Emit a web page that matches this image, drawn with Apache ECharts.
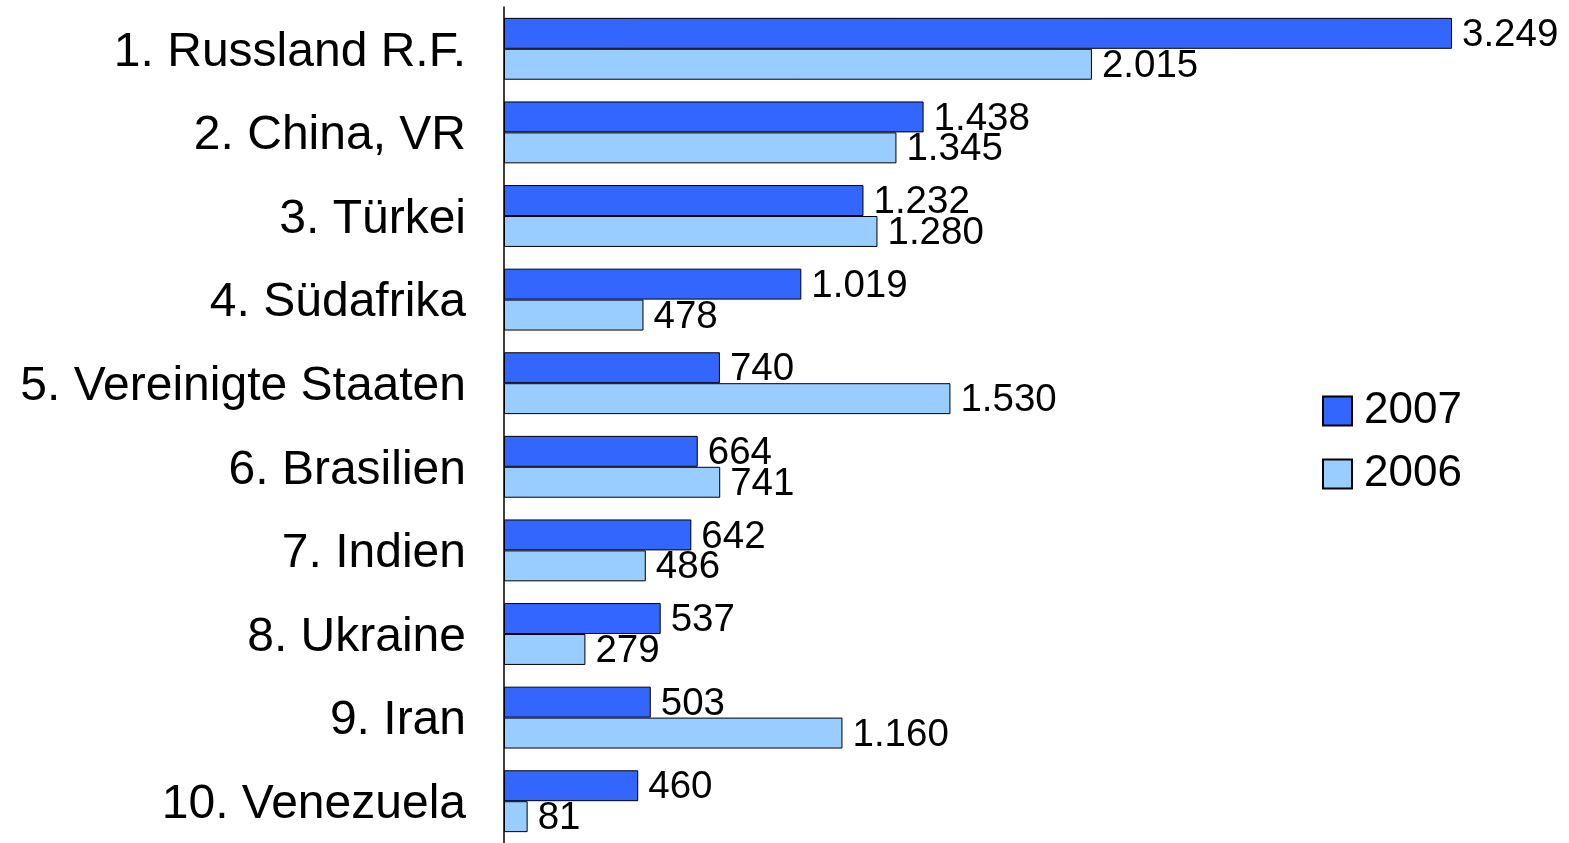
<!DOCTYPE html>
<html>
<head>
<meta charset="utf-8">
<script src="https://cdn.jsdelivr.net/npm/echarts@6/dist/echarts.min.js"></script>
<style>
  html, body { margin: 0; padding: 0; background: #fff; }
  #chart { width: 1569px; height: 843px; }
</style>
</head>
<body>
<div id="chart"></div>
<script>
const countries = ['1. Russland R.F.', '2. China, VR', '3. Türkei', '4. Südafrika', '5. Vereinigte Staaten',
  '6. Brasilien', '7. Indien', '8. Ukraine', '9. Iran', '10. Venezuela'];
const values2007 = [3249, 1438, 1232, 1019, 740, 664, 642, 537, 503, 460];
const values2006 = [2015, 1345, 1280, 478, 1530, 741, 486, 279, 1160, 81];

const FONT = '"Liberation Sans", Arial, sans-serif';

// deutsche Tausenderpunkte
function fmt(v) {
  const s = String(v);
  return s.length > 3 ? s.slice(0, -3) + '.' + s.slice(-3) : s;
}

const valueLabel = {
  show: true, position: 'right', distance: 10, offset: [0, 2],
  fontSize: 38.5, color: '#000', fontFamily: FONT,
  formatter: (p) => fmt(p.value),
};

const chart = echarts.init(document.getElementById('chart'));
chart.setOption({
  animation: false,
  textStyle: { fontFamily: FONT },
  legend: {
    orient: 'vertical',
    left: 1322,
    top: 389,
    padding: 0,
    itemWidth: 29,
    itemHeight: 29,
    itemGap: 19,
    icon: 'rect',
    textStyle: { fontSize: 44, color: '#000', fontFamily: FONT, padding: [0, 0, 0, 7] },
    data: ['2007', '2006'],
  },
  grid: { left: 504, right: 117, top: 7, height: 840 },
  xAxis: {
    type: 'value', min: 0, max: 3249,
    show: false,
  },
  yAxis: {
    type: 'category',
    data: countries,
    inverse: true,
    axisLine: { lineStyle: { color: '#000', width: 1.5 } },
    axisTick: { show: false },
    axisLabel: {
      margin: 38,
      formatter: (v) => '{c|' + v + '}',
      rich: { c: { fontSize: 48, color: '#000', fontFamily: FONT, padding: [7, 0, 0, 0] } },
    },
  },
  series: [
    {
      name: '2007', type: 'bar', data: values2007,
      barGap: '0%', barCategoryGap: '26%',
      itemStyle: { color: '#3366ff', borderColor: '#000', borderWidth: 1 },
      label: valueLabel,
    },
    {
      name: '2006', type: 'bar', data: values2006,
      barGap: '0%', barCategoryGap: '26%',
      itemStyle: { color: '#99ccff', borderColor: '#000', borderWidth: 1 },
      label: valueLabel,
    },
  ],
});
</script>
</body>
</html>
